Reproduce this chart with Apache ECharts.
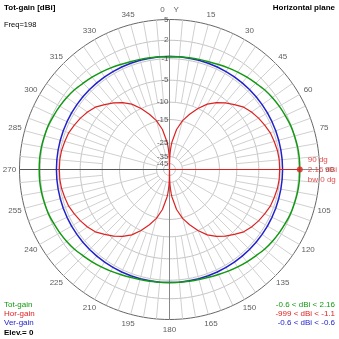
<!DOCTYPE html>
<html>
<head>
<meta charset="utf-8">
<script src="https://cdn.jsdelivr.net/npm/echarts@6/dist/echarts.min.js"></script>
<style>
  html, body { margin: 0; padding: 0; background: #fff; }
  #chart { width: 339px; height: 339px; }
</style>
</head>
<body>
<div id="chart"></div>
<script>
// Gain rings (dBi) of the log-scaled polar grid, outermost first
const ringDb = [5, 2, -1, -5, -10, -15, -25, -35, -45];

// Compass tick labels around the outer ring
const angleTicks = [0, 15, 30, 45, 60, 75, 90, 105, 120, 135, 150, 165,
                    180, 195, 210, 225, 240, 255, 270, 285, 300, 315, 330, 345];

// Azimuth samples (deg) for total and vertical gain
const azimuth = [0, 5, 10, 15, 20, 25, 30, 35, 40, 45, 50, 55, 60, 65, 70, 75, 80, 85,
                 90, 95, 100, 105, 110, 115, 120, 125, 130, 135, 140, 145, 150, 155, 160, 165, 170, 175,
                 180, 185, 190, 195, 200, 205, 210, 215, 220, 225, 230, 235, 240, 245, 250, 255, 260, 265,
                 270, 275, 280, 285, 290, 295, 300, 305, 310, 315, 320, 325, 330, 335, 340, 345, 350, 355, 360];

const totGain = [-0.6, -0.58, -0.53, -0.44, -0.32, -0.13, 0.12, 0.37, 0.62, 0.88, 1.2, 1.41, 1.6, 1.77, 1.94, 2.03, 2.12, 2.16,
                 2.16, 2.16, 2.12, 2.03, 1.94, 1.77, 1.6, 1.41, 1.2, 0.88, 0.62, 0.37, 0.12, -0.13, -0.32, -0.44, -0.53, -0.58,
                 -0.6, -0.58, -0.53, -0.44, -0.32, -0.13, 0.12, 0.37, 0.62, 0.88, 1.2, 1.41, 1.6, 1.77, 1.94, 2.03, 2.12, 2.16,
                 2.16, 2.16, 2.12, 2.03, 1.94, 1.77, 1.6, 1.41, 1.2, 0.88, 0.62, 0.37, 0.12, -0.13, -0.32, -0.44, -0.53, -0.58, -0.6];

const verGain = [-0.6, -0.6, -0.6, -0.6, -0.6, -0.6, -0.6, -0.6, -0.6, -0.6, -0.6, -0.6, -0.6, -0.6, -0.6, -0.6, -0.6, -0.6,
                 -0.6, -0.6, -0.6, -0.6, -0.6, -0.6, -0.6, -0.6, -0.6, -0.6, -0.6, -0.6, -0.6, -0.6, -0.6, -0.6, -0.6, -0.6,
                 -0.6, -0.6, -0.6, -0.6, -0.6, -0.6, -0.6, -0.6, -0.6, -0.6, -0.6, -0.6, -0.6, -0.6, -0.6, -0.6, -0.6, -0.6,
                 -0.6, -0.6, -0.6, -0.6, -0.6, -0.6, -0.6, -0.6, -0.6, -0.6, -0.6, -0.6, -0.6, -0.6, -0.6, -0.6, -0.6, -0.6, -0.6];

// Horizontal gain, sampled more finely close to the nulls at 0 and 180 deg
const horAzimuth = [0, 1, 2, 3, 4, 5, 10, 15, 20, 25, 30, 35, 40, 45, 50, 55, 60, 65, 70, 75, 80, 85,
                    90, 95, 100, 105, 110, 115, 120, 125, 130, 135, 140, 145, 150, 155, 160, 165, 170, 175, 176, 177, 178, 179,
                    180, 181, 182, 183, 184, 185, 190, 195, 200, 205, 210, 215, 220, 225, 230, 235, 240, 245, 250, 255, 260, 265,
                    270, 275, 280, 285, 290, 295, 300, 305, 310, 315, 320, 325, 330, 335, 340, 345, 350, 355, 356, 357, 358, 359, 360];

const horGain = [-999, -38.4, -32.3, -28.8, -26.3, -24.4, -18.3, -14.8, -12.3, -10.0, -8.0, -6.6, -5.5, -4.5, -3.5, -2.9, -2.4, -2.0, -1.6, -1.4, -1.2, -1.1,
                 -1.1, -1.1, -1.2, -1.4, -1.6, -2.0, -2.4, -2.9, -3.5, -4.5, -5.5, -6.6, -8.0, -10.0, -12.3, -14.8, -18.3, -24.4, -26.3, -28.8, -32.3, -38.4,
                 -999, -38.4, -32.3, -28.8, -26.3, -24.4, -18.3, -14.8, -12.3, -10.0, -8.0, -6.6, -5.5, -4.5, -3.5, -2.9, -2.4, -2.0, -1.6, -1.4, -1.2, -1.1,
                 -1.1, -1.1, -1.2, -1.4, -1.6, -2.0, -2.4, -2.9, -3.5, -4.5, -5.5, -6.6, -8.0, -10.0, -12.3, -14.8, -18.3, -24.4, -26.3, -28.8, -32.3, -38.4, -999];

// Maximum-gain marker
const markerAzimuth = 90;
const markerGain = 2.16;
const markerLines = ['90 dg', '2.16 dBi', 'bw 0 dg'];

// Legend rows and their ranges
const legendNames = ['Tot-gain', 'Hor-gain', 'Ver-gain'];
const legendRanges = ['-0.6 < dBi < 2.16', '-999 < dBi < -1.1', '-0.6 < dBi < -0.6'];

const COLORS = ['#119911', '#dd2222', '#2222cc'];
const FONT = '"Liberation Sans", Arial, sans-serif';

// Log-style radial scale: outer ring (5 dBi) sits at radius 1
const OUTER_DB = 5;
function radiusOf(db) {
  const rel = db - OUTER_DB;
  return Math.exp(0.0487 * rel - 0.000315 * rel * rel);
}
const LABEL_R = 1.067;
const R_MAX = 1.07;

function ringSeries(db, isOuter) {
  const pts = [];
  for (let a = 0; a <= 360; a += 2) pts.push([radiusOf(db), a]);
  return {
    type: 'line', coordinateSystem: 'polar', data: pts, symbol: 'none', silent: true,
    lineStyle: { color: isOuter ? '#666' : '#c4c4c4', width: 1 }, z: 1
  };
}

function spokeSeries(a, fromDb) {
  return {
    type: 'line', coordinateSystem: 'polar', symbol: 'none', silent: true,
    data: [[radiusOf(fromDb), a], [1, a]],
    lineStyle: { color: '#d0d0d0', width: 1 }, z: 1
  };
}

const series = [];
ringDb.forEach((db, i) => series.push(ringSeries(db, i === 0)));
for (let a = 0; a < 360; a += 5) {
  if (a % 90 === 0) continue;
  series.push(spokeSeries(a, a % 15 === 0 ? -35 : -10));
}
// main axes through the centre
series.push({
  type: 'line', coordinateSystem: 'polar', symbol: 'none', silent: true,
  data: [[1, 0], [0, 0], [1, 180]], lineStyle: { color: '#888', width: 1 }, z: 2
});
series.push({
  type: 'line', coordinateSystem: 'polar', symbol: 'none', silent: true,
  data: [[1, 270], [0, 270]], lineStyle: { color: '#555', width: 1 }, z: 2
});
series.push({
  type: 'line', coordinateSystem: 'polar', symbol: 'none', silent: true,
  data: [[radiusOf(markerGain), 90], [1, 90]], lineStyle: { color: '#888', width: 1 }, z: 2
});

// ring labels along the 0 deg axis
series.push({
  type: 'scatter', coordinateSystem: 'polar', symbolSize: 0, silent: true,
  data: ringDb.map(db => ({ value: [radiusOf(db), 0], name: String(db) })),
  label: { show: true, position: 'left', distance: 1, formatter: p => p.name,
           fontSize: 8, color: '#333', fontFamily: FONT },
  z: 6
});
// compass labels
series.push({
  type: 'scatter', coordinateSystem: 'polar', symbolSize: 0, silent: true,
  data: angleTicks.map(a => ({ value: [LABEL_R, a], name: a === 0 ? '0    Y' : String(a) })),
  label: { show: true, position: 'inside', formatter: p => p.name,
           fontSize: 8, color: '#333', fontFamily: FONT },
  z: 6
});

// patterns
series.push({
  name: 'Ver-gain', type: 'line', coordinateSystem: 'polar', symbol: 'none',
  data: azimuth.map((a, i) => [radiusOf(verGain[i]), a]),
  lineStyle: { color: COLORS[2], width: 1.5 }, z: 3
});
series.push({
  name: 'Tot-gain', type: 'line', coordinateSystem: 'polar', symbol: 'none', smooth: 0.3,
  data: azimuth.map((a, i) => [radiusOf(totGain[i]), a]),
  lineStyle: { color: COLORS[0], width: 1.5 }, z: 4
});
series.push({
  name: 'Hor-gain', type: 'line', coordinateSystem: 'polar', symbol: 'none',
  data: horAzimuth.map((a, i) => [radiusOf(horGain[i]), a]),
  lineStyle: { color: COLORS[1], width: 1.2 }, z: 5
});
// max-gain marker line and dot
series.push({
  type: 'line', coordinateSystem: 'polar', symbol: 'none', silent: true,
  data: [[0, markerAzimuth], [radiusOf(markerGain), markerAzimuth]],
  lineStyle: { color: COLORS[1], width: 1 }, z: 5
});
series.push({
  type: 'scatter', coordinateSystem: 'polar', symbol: 'circle', symbolSize: 6, silent: true,
  data: [[radiusOf(markerGain), markerAzimuth]],
  itemStyle: { color: COLORS[1] },
  label: { show: true, position: 'right', distance: 5, align: 'left',
           formatter: markerLines.join('\n'), lineHeight: 10,
           fontSize: 8, color: COLORS[1], fontFamily: FONT },
  z: 7
});

const graphic = [];
legendNames.forEach((n, i) => {
  graphic.push({ type: 'text', left: 4, top: 301 + i * 9,
    style: { text: n, fill: COLORS[i], font: '8px ' + FONT } });
  graphic.push({ type: 'text', right: 4, top: 301 + i * 9,
    style: { text: legendRanges[i], fill: COLORS[i], font: '8px ' + FONT } });
});
graphic.push({ type: 'text', left: 4, top: 329,
  style: { text: 'Elev.= 0', fill: '#000', font: 'bold 8px ' + FONT } });
graphic.push({ type: 'text', left: 4, top: 4,
  style: { text: 'Tot-gain [dBi]', fill: '#000', font: 'bold 8px ' + FONT } });
graphic.push({ type: 'text', left: 4, top: 21,
  style: { text: 'Freq=198', fill: '#000', font: '7.5px ' + FONT } });
graphic.push({ type: 'text', right: 4, top: 4,
  style: { text: 'Horizontal plane', fill: '#000', font: 'bold 8px ' + FONT } });

const chart = echarts.init(document.getElementById('chart'), null, { renderer: 'canvas' });
chart.setOption({
  animation: false,
  backgroundColor: '#fff',
  polar: { center: ['50%', '50%'], radius: 150 * R_MAX },
  angleAxis: { type: 'value', min: 0, max: 360, interval: 15, startAngle: 90, clockwise: true,
               axisLine: { show: false }, axisTick: { show: false }, axisLabel: { show: false },
               splitLine: { show: false } },
  radiusAxis: { type: 'value', min: 0, max: R_MAX, axisLine: { show: false }, axisTick: { show: false },
                axisLabel: { show: false }, splitLine: { show: false } },
  graphic: graphic,
  series: series
});
</script>
</body>
</html>
